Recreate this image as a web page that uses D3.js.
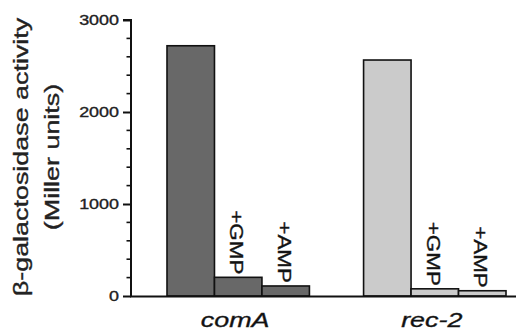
<!DOCTYPE html>
<html><head><meta charset="utf-8">
<script src="https://cdn.jsdelivr.net/npm/d3@7"></script>
<style>
html,body{margin:0;padding:0;background:#fff;}
svg{display:block;font-family:"Liberation Sans",Arial,Helvetica,sans-serif;}
text{stroke:#222;stroke-width:0.35px;}
</style></head>
<body><svg id="c" width="519" height="331"></svg>
<script>
const strains = ["comA", "rec-2"];
const conditions = ["none", "+GMP", "+AMP"];
const comAValues = [2720, 203, 109];
const rec2Values = [2565, 78, 57];
const yTicks = [0, 1000, 2000, 3000];
const yTitle = ["β-galactosidase activity", "(Miller units)"];

const data = [];
strains.forEach((s, i) => {
  const vals = i === 0 ? comAValues : rec2Values;
  conditions.forEach((c, j) => data.push({strain: s, cond: c, value: vals[j]}));
});
const fills = {"comA": "#686868", "rec-2": "#cbcbcb"};
const STRETCH = 1.28;

const svg = d3.select("#c");
const y = d3.scaleLinear().domain([0, 3000]).range([296, 20]);
const x0 = d3.scaleBand().domain(strains).range([167, 506]).paddingInner(0.2755).paddingOuter(0);
const x1 = d3.scaleBand().domain(conditions).range([0, x0.bandwidth()]).padding(0);

function stretch(sel) {
  sel.each(function() {
    const l = this.getComputedTextLength();
    d3.select(this).attr("textLength", l * STRETCH).attr("lengthAdjust", "spacingAndGlyphs");
  });
}

// bars
svg.append("g").selectAll("rect").data(data).join("rect")
  .attr("x", d => x0(d.strain) + x1(d.cond))
  .attr("width", x1.bandwidth())
  .attr("y", d => y(d.value))
  .attr("height", d => y(0) - y(d.value))
  .attr("fill", d => fills[d.strain])
  .attr("stroke", "#111")
  .attr("stroke-width", 1.6);

// rotated condition labels
svg.append("g").selectAll("text").data(data.filter(d => d.cond !== "none")).join("text")
  .attr("transform", d => `translate(${x0(d.strain) + x1(d.cond) + x1.bandwidth() / 2 - 2},${y(d.value) - 3}) rotate(90)`)
  .attr("text-anchor", "end")
  .attr("dy", "0.35em")
  .attr("font-size", 17.5)
  .attr("fill", "#111")
  .text(d => d.cond)
  .call(stretch);

// y axis
const yAxis = d3.axisLeft(y).tickValues(yTicks).tickSize(8).tickPadding(4).tickFormat(d3.format("d"));
const ga = svg.append("g").attr("transform", "translate(131,0)").call(yAxis);
ga.select(".domain").attr("d", `M-8,${y(3000)}H0V${y(0)}`).attr("stroke", "#111").attr("stroke-width", 2);
ga.selectAll(".tick line").attr("stroke", "#111").attr("stroke-width", 2);
ga.selectAll(".tick text").attr("font-size", 14).attr("fill", "#222").attr("font-family", "Liberation Sans, Arial, sans-serif").call(stretch);

// minor ticks
const minor = d3.range(200, 3000, 200).filter(v => v % 1000 !== 0);
svg.append("g").selectAll("line").data(minor).join("line")
  .attr("x1", 126.5).attr("x2", 131).attr("y1", d => y(d)).attr("y2", d => y(d))
  .attr("stroke", "#111").attr("stroke-width", 1.6);

// baseline
svg.append("line").attr("x1", 130).attr("x2", 516).attr("y1", y(0) + 0.5).attr("y2", y(0) + 0.5)
  .attr("stroke", "#111").attr("stroke-width", 2);

// strain labels
svg.append("g").selectAll("text").data(strains).join("text")
  .attr("x", d => x0(d) + x0.bandwidth() / 2 - 3)
  .attr("y", 326.5)
  .attr("text-anchor", "middle")
  .attr("font-size", 21)
  .attr("font-style", "italic")
  .attr("fill", "#111")
  .text(d => d)
  .call(stretch);

// y title
svg.append("g").selectAll("text").data(yTitle).join("text")
  .attr("transform", (d, i) => `translate(${i === 0 ? 28 : 59},157) rotate(-90)`)
  .attr("text-anchor", "middle")
  .attr("font-size", 21)
  .attr("fill", "#222")
  .text(d => d)
  .call(stretch);
</script></body></html>
